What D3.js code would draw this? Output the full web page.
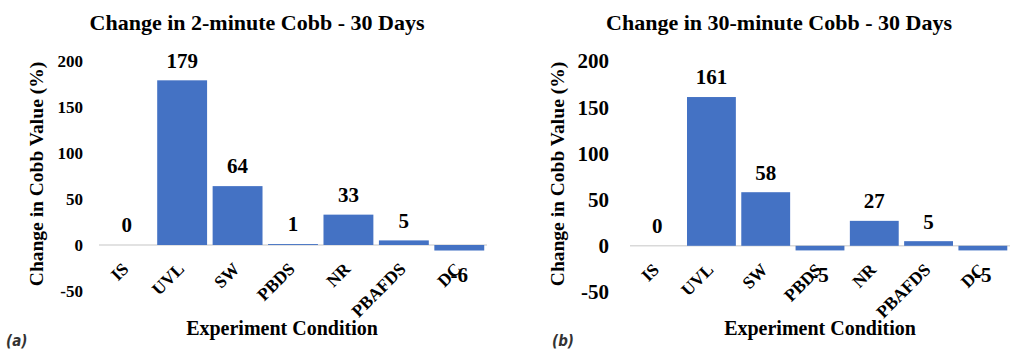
<!DOCTYPE html>
<html>
<head>
<meta charset="utf-8">
<script src="https://cdn.jsdelivr.net/npm/d3@7"></script>
<style>
  body { margin: 0; background: #fff; }
</style>
</head>
<body>
<svg id="chart" width="1024" height="363"></svg>
<script>
// categories and values
const conditions = ["IS", "UVL", "SW", "PBDS", "NR", "PBAFDS", "DC"];
const cobb2min = [0, 179, 64, 1, 33, 5, -6];
const cobb30min = [0, 161, 58, -5, 27, 5, -5];
const yTicks = [-50, 0, 50, 100, 150, 200];

const serif = "'Liberation Serif', 'Times New Roman', serif";

const svg = d3.select("#chart")
  .attr("font-family", serif)
  .attr("font-weight", "bold");

function drawPanel(opt) {
  const g = svg.append("g");

  const x = d3.scaleBand()
    .domain(conditions)
    .range([opt.left, opt.right])
    .paddingInner(0.1)
    .paddingOuter(0.05);

  const y = d3.scaleLinear()
    .domain([-50, 200])
    .range([opt.bottom, opt.top]);

  // title
  g.append("text")
    .attr("x", opt.titleX)
    .attr("y", 30)
    .attr("text-anchor", "middle")
    .style("font-size", "22px")
    .text(opt.title);

  // y tick labels (no axis line in the original)
  g.selectAll(".ytick")
    .data(yTicks)
    .enter()
    .append("text")
      .attr("x", opt.tickX)
      .attr("y", d => y(d))
      .attr("dy", "0.35em")
      .attr("text-anchor", "end")
      .style("font-size", opt.tickSize + "px")
      .text(d => d);

  // zero line
  g.append("line")
    .attr("x1", opt.left)
    .attr("x2", opt.right)
    .attr("y1", y(0))
    .attr("y2", y(0))
    .attr("stroke", "#d9d9d9")
    .attr("stroke-width", 1.5);

  // bars
  g.selectAll(".bar")
    .data(opt.values)
    .enter()
    .append("rect")
      .attr("x", (d, i) => x(conditions[i]))
      .attr("y", d => y(Math.max(0, d)))
      .attr("width", x.bandwidth())
      .attr("height", d => Math.abs(y(d) - y(0)))
      .style("fill", "#4472c4");

  // category labels, rotated
  g.selectAll(".xlab")
    .data(conditions)
    .enter()
    .append("text")
      .attr("text-anchor", "end")
      .style("font-size", "17.5px")
      .attr("transform", d => "translate(" + (x(d) + x.bandwidth() / 2 + 3) + "," + (y(0) + 25) + ") rotate(-45)")
      .text(d => d);

  // value labels
  g.selectAll(".vlab")
    .data(opt.values)
    .enter()
    .append("text")
      .attr("x", (d, i) => x(conditions[i]) + x.bandwidth() / 2)
      .attr("y", d => d >= 0 ? y(d) - 20 : y(d) + 24)
      .attr("dy", "0.35em")
      .attr("text-anchor", "middle")
      .style("font-size", "21px")
      .text(d => d);

  // axis titles
  g.append("text")
    .attr("transform", "translate(" + opt.yTitleX + "," + 174 + ") rotate(-90)")
    .attr("dy", "0.35em")
    .attr("text-anchor", "middle")
    .style("font-size", "19.5px")
    .text("Change in Cobb Value (%)");

  g.append("text")
    .attr("x", opt.xTitleX)
    .attr("y", 328)
    .attr("dy", "0.35em")
    .attr("text-anchor", "middle")
    .style("font-size", "20px")
    .text("Experiment Condition");

  // panel letter
  g.append("text")
    .attr("x", opt.letterX)
    .attr("y", 346)
    .attr("font-family", "'DejaVu Sans Condensed', 'DejaVu Sans', sans-serif")
    .style("font-style", "italic")
    .style("font-size", "15px")
    .style("fill", "#333")
    .text(opt.letter);
}

drawPanel({
  values: cobb2min, title: "Change in 2-minute Cobb - 30 Days", letter: "(a)",
  left: 99, right: 487, top: 61, bottom: 291,
  titleX: 257, tickX: 83, tickSize: 17,
  yTitleX: 36, xTitleX: 282, letterX: 6
});

drawPanel({
  values: cobb30min, title: "Change in 30-minute Cobb - 30 Days", letter: "(b)",
  left: 630, right: 1010, top: 61, bottom: 292,
  titleX: 779, tickX: 609, tickSize: 21,
  yTitleX: 557, xTitleX: 820, letterX: 552
});
</script>
</body>
</html>
